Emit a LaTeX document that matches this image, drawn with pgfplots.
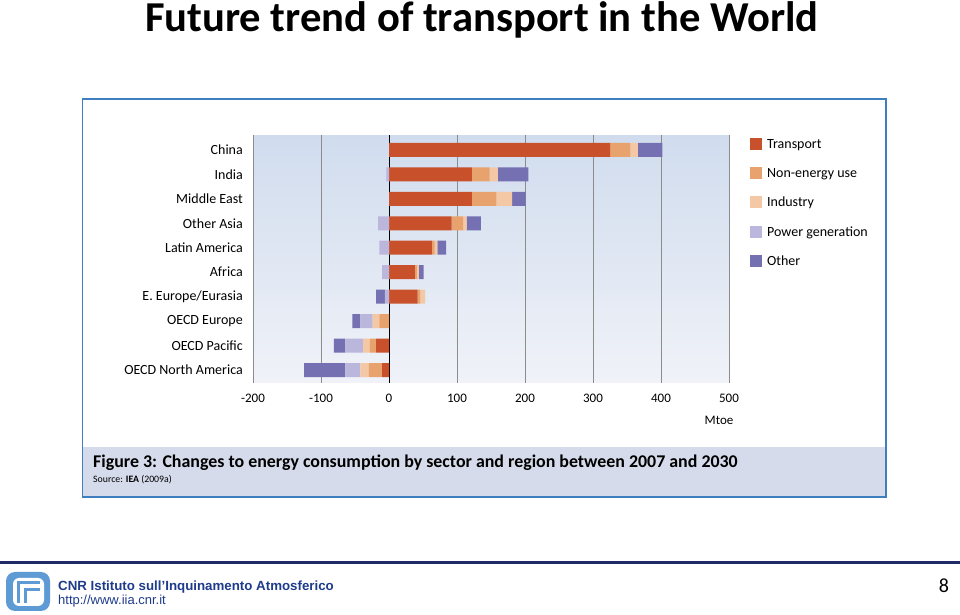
\documentclass[border=0pt]{standalone}
\usepackage{pgfplots}
\pgfplotsset{compat=1.18}
\usepackage{pgfplotstable}
\usepackage{fontspec}
\setmainfont{Carlito}
\newfontfamily\arialf{Liberation Sans}

\definecolor{cT}{HTML}{C8502A}
\definecolor{cNE}{HTML}{E8A26E}
\definecolor{cI}{HTML}{F4C8A4}
\definecolor{cPG}{HTML}{BAB6DC}
\definecolor{cO}{HTML}{7470B2}
\definecolor{bgtop}{HTML}{D0DCEE}
\definecolor{bgbot}{HTML}{F0F2F8}
\definecolor{panelblue}{HTML}{3F7FBF}
\definecolor{capfill}{HTML}{D5DBEA}
\definecolor{navy}{HTML}{1F2A66}
\definecolor{cnrblue}{HTML}{1F3C8C}
\definecolor{logoblue}{HTML}{5E9BD5}

% positive changes (Mtoe), idx 0 = OECD North America ... 9 = China
\pgfplotstableread{
idx T   NE  I   PG  O
0   0   0   0   0   0
1   0   0   0   0   0
2   0   0   0   0   0
3   42  4   7   0   0
4   38  3   3   0   7
5   63  4   4   0   13
6   92  17  5   0   21
7   122 36  23  0   20
8   122 26  12  0   45
9   325 30  11  0   36
}\postab

% negative changes (Mtoe)
\pgfplotstableread{
idx T   NE  I   PG  O
0   -10 -20 -12 -22 -61
1   -19 -9  -10 -26 -17
2   0   -14 -10 -18 -12
3   0   0   0   -6  -13
4   0   0   0   -10 0
5   0   0   0   -14 0
6   0   0   0   -16 0
7   0   0   0   0   0
8   0   0   0   -4  0
9   0   0   0   0   0
}\negtab

\pgfplotsset{
  commonaxis/.style={
    at={(253pt,232pt)}, anchor=south west,
    scale only axis, width=476pt, height=248pt,
    xmin=-200, xmax=500, ymin=-0.53, ymax=9.61,
    xbar stacked, bar width=14pt,
  }
}

\begin{document}
\begin{tikzpicture}[x=1pt,y=1pt]
\path[use as bounding box] (0,0) rectangle (960,615);
\fill[white] (0,0) rectangle (960,615);

% title
\node[anchor=base west, inner sep=0pt] at (145,583)
  {\fontsize{42.6}{46}\selectfont\bfseries Future trend of transport in the World};

% panel
\draw[panelblue, line width=1.3pt, fill=white] (82.5,118) rectangle (886,516);
\fill[capfill] (83.2,118.7) rectangle (885.3,168);
\node[anchor=base west, inner sep=0pt] at (93,147)
  {\fontsize{17.9}{19}\selectfont\bfseries Figure 3: Changes to energy consumption by sector and region between 2007 and 2030};
\node[anchor=base west, inner sep=0pt] at (93,132)
  {\fontsize{9.8}{11}\selectfont Source: \textbf{IEA} (2009a)};

\begin{axis}[
  commonaxis,
  axis background/.style={top color=bgtop, bottom color=bgbot},
  axis line style={draw=none}, tick style={draw=none},
  xtick={-200,-100,0,100,200,300,400,500},
  xticklabels={-200,-100,0,100,200,300,400,500},
  xticklabel style={font=\fontsize{13}{14}\selectfont, inner sep=0pt, anchor=north, yshift=-10.5pt},
  ytick={0,1,2,3,4,5,6,7,8,9},
  yticklabels={OECD North America,OECD Pacific,OECD Europe,E. Europe/Eurasia,Africa,Latin America,Other Asia,Middle East,India,China},
  yticklabel style={font=\fontsize{14}{15}\selectfont, inner sep=0pt, anchor=east, xshift=-10pt},
  xmajorgrids, major grid style={draw=black!45, line width=0.9pt},
  extra x ticks={0}, extra x tick labels={},
  extra x tick style={major grid style={draw=black, line width=0.9pt}},
  legend image code/.code={\fill[#1] (0pt,-5pt) rectangle (12pt,7pt);},
  legend style={at={(rel axis cs:1.044,0.99)}, anchor=north west, draw=none, fill=none,
    inner sep=0pt, row sep=15.8pt, font=\fontsize{14}{15}\selectfont,
    nodes={inner sep=0pt, text height=10pt, text depth=3pt},
    /tikz/every odd column/.append style={column sep=5pt}},
  legend cell align=left,
]
\addplot[fill=cT, draw=none] table[x=T, y=idx] {\postab};
\addlegendentry{Transport}
\addplot[fill=cNE, draw=none] table[x=NE, y=idx] {\postab};
\addlegendentry{Non-energy use}
\addplot[fill=cI, draw=none] table[x=I, y=idx] {\postab};
\addlegendentry{Industry}
\addplot[fill=cPG, draw=none] table[x=PG, y=idx] {\postab};
\addlegendentry{Power generation}
\addplot[fill=cO, draw=none] table[x=O, y=idx] {\postab};
\addlegendentry{Other}
\end{axis}

\begin{axis}[commonaxis, hide axis]
\addplot[fill=cT, draw=none] table[x=T, y=idx] {\negtab};
\addplot[fill=cNE, draw=none] table[x=NE, y=idx] {\negtab};
\addplot[fill=cI, draw=none] table[x=I, y=idx] {\negtab};
\addplot[fill=cPG, draw=none] table[x=PG, y=idx] {\negtab};
\addplot[fill=cO, draw=none] table[x=O, y=idx] {\negtab};
\end{axis}

\node[inner sep=0pt] at (719,195) {\fontsize{13}{14}\selectfont Mtoe};

% footer
\fill[navy] (0,51) rectangle (960,54);
\fill[logoblue, rounded corners=9pt] (6,4) rectangle (50,43);
\fill[white, rounded corners=6pt] (13,9) rectangle (44,37);
\draw[logoblue, line width=3pt] (18,12) -- (18,32) -- (40,32);
\draw[logoblue, line width=3pt] (25,12) -- (25,25) -- (40,25);
\node[anchor=base west, inner sep=0pt, text=cnrblue] at (58,24)
  {\arialf\bfseries\fontsize{13.3}{15}\selectfont CNR Istituto sull’Inquinamento Atmosferico};
\node[anchor=base west, inner sep=0pt, text=cnrblue] at (58,10)
  {\arialf\fontsize{13}{15}\selectfont http://www.iia.cnr.it};
\node[anchor=base, inner sep=0pt] at (944,22) {\fontsize{20}{22}\selectfont 8};
\end{tikzpicture}
\end{document}
